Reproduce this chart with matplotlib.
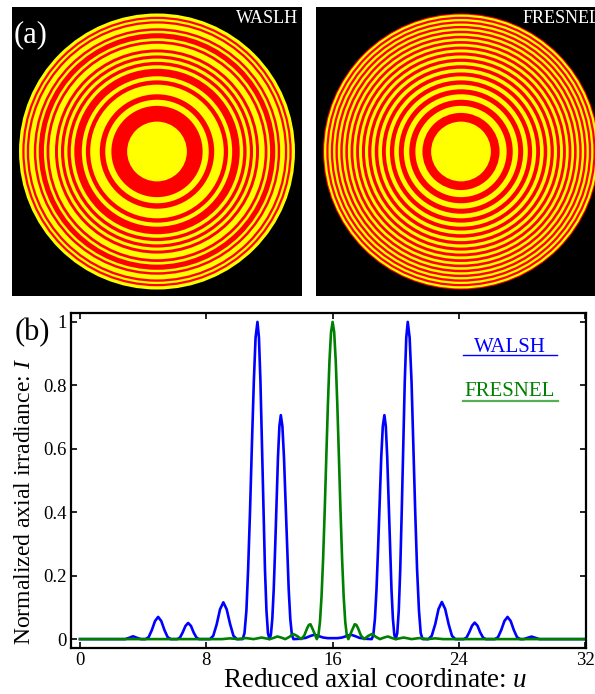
import matplotlib
matplotlib.use("Agg")
import matplotlib.pyplot as plt
from matplotlib.patches import Circle
from matplotlib.lines import Line2D

# --- Zone plates (a): outer radius of each zone (normalised), 1 = open (yellow) ---
zone_edges = [0.2165, 0.2795, 0.3307, 0.3750, 0.4146, 0.4507, 0.4841, 0.5154,
              0.5449, 0.5728, 0.5995, 0.6250, 0.6495, 0.6731, 0.6960, 0.7181,
              0.7395, 0.7603, 0.7806, 0.8004, 0.8197, 0.8385, 0.8570, 0.8750,
              0.8927, 0.9100, 0.9270, 0.9437, 0.9601, 0.9763, 0.9922, 1.0000]
walsh_open = [1, 0, 0, 1, 0, 1, 1, 0, 1, 0, 0, 1, 0, 1, 0, 1,
              0, 1, 1, 0, 1, 0, 0, 1, 0, 1, 1, 0, 1, 0, 1, 1]
fresnel_open = [1, 0, 1, 0, 1, 0, 1, 0, 1, 0, 1, 0, 1, 0, 1, 0,
                1, 0, 1, 0, 1, 0, 1, 0, 1, 0, 1, 0, 1, 0, 1, 0]

# --- Axial irradiance (b) ---
u_walsh = [0.0, 2.86, 3.11, 3.36, 3.61, 3.86,
           4.15, 4.35, 4.55, 4.75, 4.95, 5.15, 5.35, 5.55, 5.75,
           6.15, 6.33, 6.50, 6.68, 6.85, 7.03, 7.20, 7.38, 7.55,
           8.23, 8.44, 8.66, 8.87, 9.08, 9.29, 9.51, 9.72, 9.93,
           10.30, 10.42, 10.54, 10.65, 10.77, 10.89, 11.01, 11.12, 11.24,
           11.335, 11.43, 11.525, 11.62, 11.715, 11.81, 11.905, 12.00,
           12.09, 12.18, 12.27, 12.36, 12.45, 12.54, 12.63, 12.72,
           12.82, 12.92, 13.02, 13.12, 13.22, 13.32, 13.42, 13.52,
           13.90, 14.30, 14.60, 14.85, 15.10, 15.40, 15.70, 16.00,
           16.30, 16.60, 16.90, 17.15, 17.40, 17.70, 18.10, 18.48,
           18.58, 18.68, 18.78, 18.88, 18.98, 19.08, 19.18, 19.28,
           19.37, 19.46, 19.55, 19.64, 19.73, 19.82, 19.91, 20.00,
           20.095, 20.19, 20.285, 20.38, 20.475, 20.57, 20.665, 20.76,
           20.88, 21.00, 21.11, 21.23, 21.35, 21.47, 21.58, 21.70,
           22.07, 22.28, 22.50, 22.71, 22.92, 23.13, 23.35, 23.56, 23.77,
           24.30, 24.48, 24.65, 24.83, 25.00, 25.18, 25.35, 25.53, 25.70,
           26.28, 26.48, 26.68, 26.88, 27.08, 27.28, 27.48, 27.68, 27.88,
           28.10, 28.35, 28.60, 28.85, 29.10, 32.0]
i_walsh = [0.0, 0.0, 0.004, 0.009, 0.004, 0.0,
           0.0, 0.0063, 0.0284, 0.0568, 0.070, 0.0568, 0.0284, 0.0063, 0.0,
           0.0, 0.0046, 0.0207, 0.0414, 0.051, 0.0414, 0.0207, 0.0046, 0.0,
           0.0, 0.0104, 0.047, 0.094, 0.116, 0.094, 0.047, 0.0104, 0.0,
           0.0, 0.019, 0.090, 0.221, 0.405, 0.615, 0.811, 0.950, 1.0,
           0.950, 0.811, 0.615, 0.405, 0.221, 0.090, 0.019, 0.0,
           0.0134, 0.0635, 0.156, 0.286, 0.434, 0.573, 0.671, 0.706,
           0.671, 0.573, 0.434, 0.286, 0.156, 0.0635, 0.0134, 0.0,
           0.001, 0.004, 0.010, 0.014, 0.010, 0.005, 0.003, 0.003,
           0.003, 0.005, 0.010, 0.014, 0.010, 0.004, 0.001, 0.0,
           0.0134, 0.0635, 0.156, 0.286, 0.434, 0.573, 0.671, 0.706,
           0.671, 0.573, 0.434, 0.286, 0.156, 0.0635, 0.0134, 0.0,
           0.019, 0.090, 0.221, 0.405, 0.615, 0.811, 0.950, 1.0,
           0.950, 0.811, 0.615, 0.405, 0.221, 0.090, 0.019, 0.0,
           0.0, 0.0105, 0.047, 0.095, 0.117, 0.095, 0.047, 0.0105, 0.0,
           0.0, 0.0047, 0.021, 0.042, 0.052, 0.042, 0.021, 0.0047, 0.0,
           0.0, 0.0063, 0.0284, 0.0568, 0.070, 0.0568, 0.0284, 0.0063, 0.0,
           0.0, 0.004, 0.008, 0.004, 0.0, 0.0]

u_fresnel = [0.0, 9.0, 9.5, 10.0, 10.5, 11.0, 11.5, 12.0, 12.25, 12.5, 12.75,
             13.0, 13.25, 13.5, 13.75, 14.0, 14.2, 14.4, 14.5, 14.6, 14.8,
             15.0, 15.1, 15.2, 15.3, 15.4, 15.5, 15.6, 15.7, 15.8, 15.9,
             16.0, 16.1, 16.2, 16.3, 16.4, 16.5, 16.6, 16.7, 16.8, 16.9,
             17.0, 17.2, 17.4, 17.5, 17.6, 17.8, 18.0, 18.25, 18.5, 18.75,
             19.0, 19.25, 19.5, 19.75, 20.0, 20.5, 21.0, 21.5, 22.0, 22.5,
             23.0, 32.0]
i_fresnel = [0.0, 0.0, 0.0024, 0.0, 0.0033, 0.0, 0.0050, 0.0, 0.0036, 0.0083, 0.0048,
             0.0, 0.0067, 0.0162, 0.0100, 0.0, 0.0108, 0.0358, 0.0450, 0.0468, 0.0243,
             0.0, 0.0119, 0.0547, 0.1353, 0.2546, 0.4053, 0.5728, 0.7368, 0.8751, 0.9675,
             1.0, 0.9675, 0.8751, 0.7368, 0.5728, 0.4053, 0.2546, 0.1353, 0.0547, 0.0119,
             0.0, 0.0243, 0.0468, 0.0450, 0.0358, 0.0108, 0.0, 0.0100, 0.0162, 0.0067,
             0.0, 0.0048, 0.0083, 0.0036, 0.0, 0.0050, 0.0, 0.0033, 0.0, 0.0024,
             0.0, 0.0]

x_ticks = [0, 8, 16, 24, 32]
y_ticks = [0, 0.2, 0.4, 0.6, 0.8, 1.0]
y_tick_labels = ["0", "0.2", "0.4", "0.6", "0.8", "1"]

YELLOW = "#ffff00"
RED = "#ff0000"

plt.rcParams["font.family"] = ["Liberation Serif", "DejaVu Serif"]
plt.rcParams["mathtext.fontset"] = "custom"
plt.rcParams["mathtext.rm"] = "Liberation Serif"
plt.rcParams["mathtext.it"] = "Liberation Serif:italic"

fig = plt.figure(figsize=(5.95, 6.94), dpi=100)


def draw_plate(rect, edges, is_open):
    ax = fig.add_axes(rect)
    ax.set_facecolor("black")
    # biggest disc first, smaller ones painted on top
    for r, op in reversed(list(zip(edges, is_open))):
        ax.add_patch(Circle((0, 0), r, color=YELLOW if op else RED, lw=0))
    ax.set_xlim(-1.051, 1.051)
    ax.set_ylim(-1.047, 1.047)
    ax.set_xticks([])
    ax.set_yticks([])
    for s in ax.spines.values():
        s.set_visible(False)
    return ax


ax_w = draw_plate([12 / 595, 1 - 296 / 694, 290 / 595, 289 / 694], zone_edges, walsh_open)
ax_f = draw_plate([316 / 595, 1 - 296 / 694, 290 / 595, 289 / 694], zone_edges, fresnel_open)

ax_w.text(0.005, 0.955, "(a)", color="white", fontsize=22, ha="left", va="top",
          transform=ax_w.transAxes)
ax_w.text(0.985, 0.99, "WASLH", color="white", fontsize=13, ha="right", va="top",
          transform=ax_w.transAxes)
ax_f.text(0.713, 0.99, "FRESNEL", color="white", fontsize=13, ha="left", va="top",
          transform=ax_f.transAxes)

# --- bottom panel ---
ax = fig.add_axes([71 / 595, 1 - 648 / 694, 515 / 595, 335.3 / 694])
ax.plot(u_walsh, i_walsh, color="#0000ff", lw=1.9)
ax.plot(u_fresnel, i_fresnel, color="#008000", lw=1.9)

ax.set_xlim(-0.57, 32.05)
ax.set_ylim(-0.028, 1.029)
ax.set_xticks(x_ticks)
ax.set_yticks(y_ticks)
ax.set_yticklabels(y_tick_labels)
ax.tick_params(direction="in", length=4, width=1.2, top=True, right=True,
               labelsize=13.5, pad=3)
for s in ax.spines.values():
    s.set_linewidth(1.6)

ax.set_xlabel("Reduced axial coordinate: $u$", fontsize=19.5)
ax.set_ylabel("Normalized axial irradiance: $I$", fontsize=17)
ax.xaxis.set_label_coords(0.59, -0.06)
ax.yaxis.set_label_coords(-0.07, 0.438)

ax.text(-0.11, 0.985, "(b)", fontsize=22, ha="left", va="top", transform=ax.transAxes)

# hand-made legend: coloured words with an underline
ax.text(0.852, 0.884, "WALSH", color="#0000ff", fontsize=15, ha="center",
        va="baseline", transform=ax.transAxes)
ax.add_line(Line2D([0.7606, 0.9443], [0.873, 0.873], color="#0000ff", lw=1.0,
                   transform=ax.transAxes))
ax.text(0.852, 0.7516, "FRESNEL", color="#008000", fontsize=15, ha="center",
        va="baseline", transform=ax.transAxes)
ax.add_line(Line2D([0.7606, 0.945], [0.7367, 0.7367], color="#55b055", lw=1.6,
                   transform=ax.transAxes))

fig.savefig("out.png", dpi=100, facecolor="white")
